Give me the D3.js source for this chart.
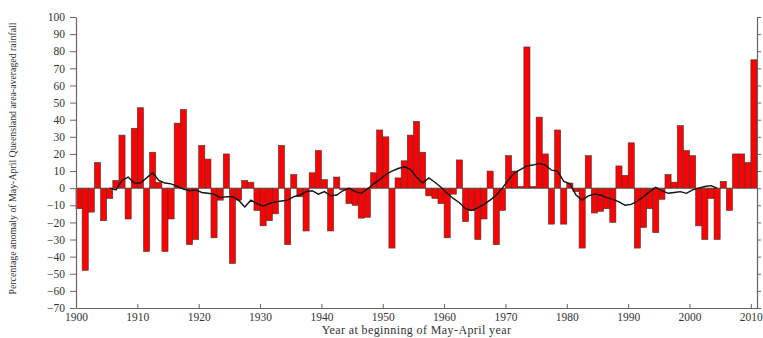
<!DOCTYPE html>
<html>
<head>
<meta charset="utf-8">
<script src="https://cdn.jsdelivr.net/npm/d3@7"></script>
<style>
  body { margin: 0; background: #fff; }
  svg { display: block; font-family: "Liberation Serif", "DejaVu Serif", serif; }
</style>
</head>
<body>
<svg id="chart" width="763" height="338"></svg>
<script>
// May-April Queensland rainfall anomaly (%), one value per year 1900..2010
const firstYear = 1900
const anomaly = [
  -12, -48, -14, 15, -19, -6, 4.5, 31, -18, 35,
  47, -37, 21, 3.5, -37, -18, 38, 46, -33, -30,
  25, 17, -29, -7, 20, -44, -7, 4.5, 3.5, -13,
  -22, -19, -15, 25, -33, 8, -5, -25, 9, 22,
  5, -25, 6.5, -1, -9, -10, -17.5, -17, 9, 34,
  30, -35, 6, 16, 31, 39, 21, -4.5, -6, -9,
  -29, -3.5, 16.5, -19.5, -13, -30, -18, 10, -33, -13,
  19, 10, 1, 82.5, 1, 41.5, 20, -21, 34, -21,
  3, -2, -35, 19, -14.5, -13.5, -12, -20, 13, 7.5,
  26.5, -35, -23, -12, -26, -6.5, 8, 3.5, 36.5, 22,
  19, -22, -30, -6, -30, 4, -13, 20, 20, 15,
  75
]

// smoothed curve, 1905..2004
const smoothStart = 1905
const smoothed = [
  0, -1, 4.5, 6.5, 3, 3, 6, 9, 4.5, 3,
  2.5, 1, -0.5, -1.5, -1, -2.5, -3, -3.5, -5.5, -5,
  -5, -7, -11, -7, -9, -10.5, -9, -8, -7.5, -7,
  -5, -4, -2, -1.5, -3.5, -2, -4.5, -4, -1.5, 0,
  -2, -3, -0.5, 2.5, 5, 8, 10, 11.5, 12.5, 11,
  6.5, 3, 6, 3.5, 0.5, -3, -6, -8.5, -12, -13,
  -11.5, -9.5, -7, -4, 0, 5, 9, 11, 13, 13.5,
  14.5, 13.5, 10.5, 10, 4, 2.5, -4, -7, -4.5, -3.5,
  -4, -5.5, -6.5, -8, -10, -9.5, -7.5, -5, -2, 0.5,
  -1.5, -3, -2.5, -2, -3, -1, 0, 1, 1.5, 0
]

const yTicks = d3.range(-70, 101, 10)
const xTicks = d3.range(1900, 2011, 10)

const yLabel = 'Percentage anomaly of May-April Queensland area-averaged rainfall'
const xLabel = 'Year at beginning of May-April year'

const svg = d3.select('#chart')
const plotLeft = 76, plotRight = 757, plotTop = 17, plotBottom = 308

const x = d3.scaleLinear().domain([1900, 2011]).range([plotLeft, plotRight])
const y = d3.scaleLinear().domain([-70, 100]).range([plotBottom, plotTop])

const bars = anomaly.map((v, i) => ({ year: firstYear + i, value: v }))
const curve = smoothed.map((v, i) => ({ year: smoothStart + i, value: v }))

// bars
svg.append('g')
  .selectAll('rect')
  .data(bars)
  .join('rect')
  .attr('x', d => x(d.year))
  .attr('width', d => x(d.year + 1) - x(d.year))
  .attr('y', d => y(Math.max(0, d.value)))
  .attr('height', d => Math.abs(y(d.value) - y(0)))
  .attr('fill', '#ff0000')
  .attr('stroke', '#3a3a3a')
  .attr('stroke-width', 0.6)

// zero line
svg.append('line')
  .attr('x1', plotLeft).attr('x2', plotRight)
  .attr('y1', y(0)).attr('y2', y(0))
  .attr('stroke', '#555').attr('stroke-width', 0.6)

// smoothed line
const line = d3.line()
  .x(d => x(d.year + 0.5))
  .y(d => y(d.value))
svg.append('path')
  .datum(curve)
  .attr('d', line)
  .attr('fill', 'none')
  .attr('stroke', '#111')
  .attr('stroke-width', 1.4)

// axes
const axisColor = '#666'
const styleAxis = g => {
  g.select('.domain').attr('stroke', axisColor).attr('stroke-width', 1.2)
  g.selectAll('.tick line').attr('stroke', axisColor)
  g.selectAll('.tick text').attr('fill', '#333')
    .style('font-family', '"Liberation Serif", serif').style('font-size', '11.5px')
}

svg.append('g')
  .attr('transform', `translate(${plotLeft},0)`)
  .call(d3.axisLeft(y).tickValues(yTicks).tickSize(6).tickSizeOuter(0).tickPadding(5))
  .call(styleAxis)

svg.append('g')
  .attr('transform', `translate(${plotRight},0)`)
  .call(d3.axisRight(y).tickValues(yTicks).tickSize(4).tickSizeOuter(0).tickFormat(''))
  .call(styleAxis)

svg.append('g')
  .attr('transform', `translate(0,${plotBottom})`)
  .call(d3.axisBottom(x).tickValues(xTicks).tickSize(-4).tickSizeOuter(0).tickPadding(5)
    .tickFormat(d3.format('d')))
  .call(styleAxis)

// axis titles
svg.append('text')
  .attr('transform', `translate(16,${(plotTop + plotBottom) / 2 - 4}) rotate(-90)`)
  .attr('text-anchor', 'middle')
  .attr('textLength', 272)
  .attr('lengthAdjust', 'spacingAndGlyphs')
  .style('font-size', '10px')
  .attr('fill', '#333')
  .text(yLabel)

svg.append('text')
  .attr('x', (plotLeft + plotRight) / 2)
  .attr('y', 334)
  .attr('text-anchor', 'middle')
  .style('font-size', '12px')
  .style('letter-spacing', '0.4px')
  .attr('fill', '#333')
  .text(xLabel)
</script>
</body>
</html>
